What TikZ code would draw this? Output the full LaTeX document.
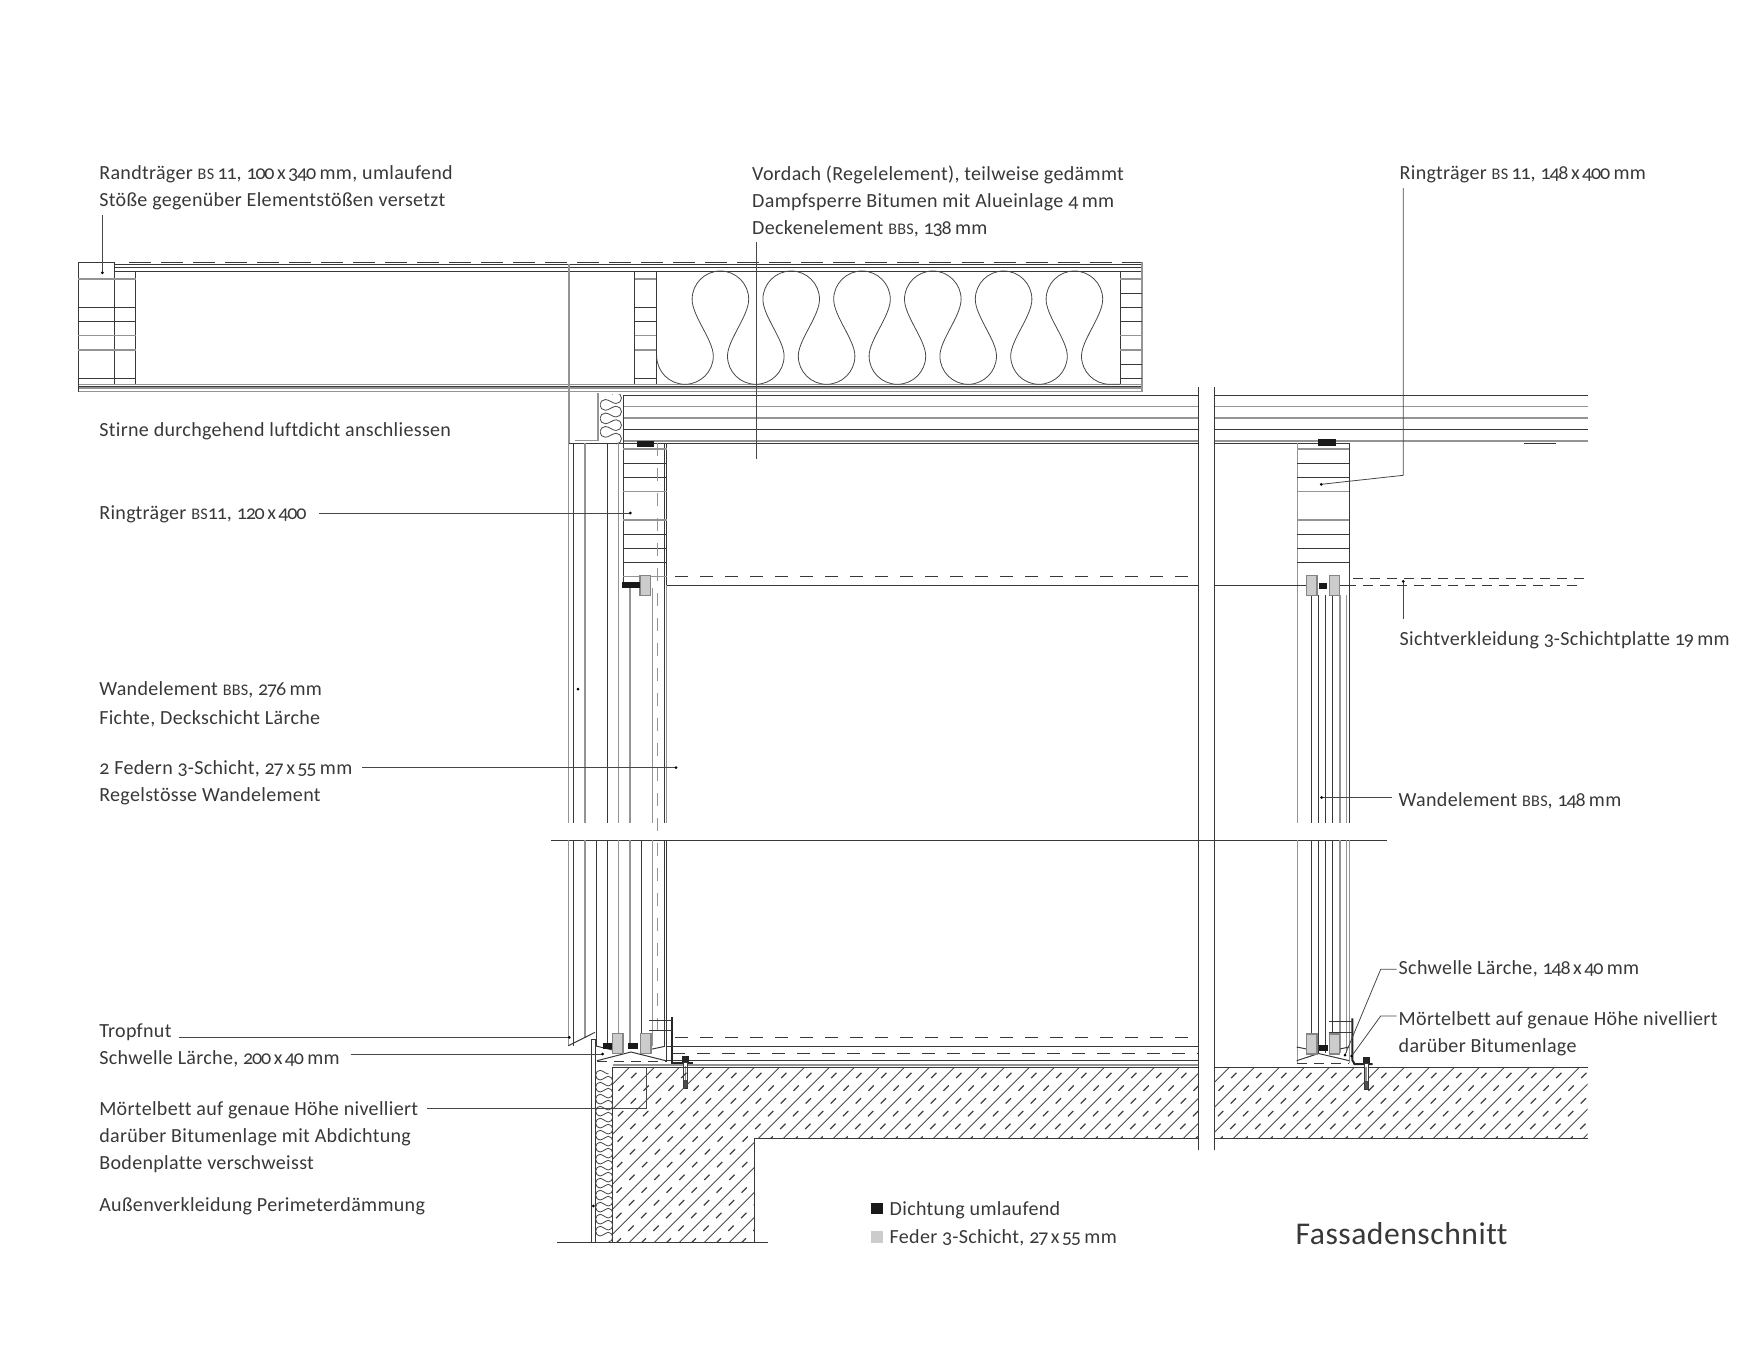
\documentclass[tikz,border=0pt]{standalone}
\usepackage{fontspec}
\setmainfont[Numbers=OldStyle,LetterSpace=1.6,Ligatures=NoCommon]{Carlito}

\newcommand{\smcap}[1]{{\fontsize{4.6}{7.68}\selectfont #1}}
\newcommand{\nr}[1]{{\addfontfeature{LetterSpace=-6}#1}}
\newcommand{\by}{\kern0.7pt x\kern0.7pt}

\tikzset{
    lineDark/.style={draw=black!78,line width=0.01cm},
    lineGray/.style={draw=black!42,line width=0.012cm},
    lineLead/.style={draw=black!72,line width=0.008cm},
    dashRoof/.style={lineDark,dash pattern=on 0.22cm off 0.10cm},
    dashLong/.style={lineDark,dash pattern=on 0.13cm off 0.12cm},
    dashGray/.style={lineGray,dash pattern=on 0.13cm off 0.12cm},
    dashShort/.style={lineDark,dash pattern=on 0.10cm off 0.07cm},
    lineHatch/.style={draw=black!70,line width=0.009cm},
    dashHatch/.style={draw=black!75,line width=0.012cm,dash pattern=on 0.075cm off 0.105cm},
    lineBold/.style={draw=black!85,line width=0.02cm},
    featherBox/.style={draw=black!48,line width=0.012cm,fill=black!20},
    sealBox/.style={fill=black!90},
    labelText/.style={anchor=west,align=left,inner sep=0pt,text=black!78,yshift=-0.02cm,
        font=\fontsize{5.7}{7.68}\selectfont},
    titleText/.style={anchor=west,inner sep=0pt,text=black!78,
        font=\fontsize{9}{11}\selectfont},
    woolUnit/.pic={
        \draw[lineLead] (0,85) .. controls (0,100.6) and (12.7,113.3) .. (28.3,113.3)
            .. controls (43.9,113.3) and (56.6,100.6) .. (56.6,85)
            .. controls (56.6,69) and (35.4,45) .. (35.4,28.3)
            .. controls (35.4,12.7) and (48.1,0) .. (63.7,0)
            .. controls (79.3,0) and (92,12.7) .. (92,28.3)
            .. controls (92,45) and (70.8,69) .. (70.8,85);
    },
    boltUnit/.pic={
        \draw[lineDark,fill=white] (-2,2) rectangle (2,28);
        \draw[lineGray] (0,6) -- (0,20);
        \fill[black!70] (-1.5,20) rectangle (1.5,28);
        \fill[black!85] (-3.5,-4) rectangle (3.5,2);
    }
}

\begin{document}
\begin{tikzpicture}[x=0.01cm,y=-0.01cm]
    \useasboundingbox (0,0) rectangle (1756,1345);

    % --------
    % Vordach
    % --------
    \draw[dashRoof] (129,262) -- (1142,262);
    \draw[lineDark] (114,264.5) -- (1142,264.5);
    \draw[lineDark] (114,267) -- (1142,267);
    \draw[lineDark] (114,271.5) -- (1143,271.5);
    \draw[lineGray] (78,384.3) -- (1142,384.3);
    \draw[lineDark] (78,386) -- (1142,386);
    \draw[lineGray] (78,388) -- (1142,388);
    \draw[lineGray] (78,391.5) -- (1142,391.5);

    % Randtraeger and inner beams
    \draw[lineDark] (78,262.5) -- (114,262.5) -- (114,384);
    \draw[lineDark] (78,262.5) -- (78,391.5);
    \draw[lineDark] (135.5,271) -- (135.5,384);
    \draw[lineDark] (634.5,271) -- (634.5,384);
    \draw[lineDark] (656.4,271) -- (656.4,384);
    \draw[lineDark] (1120,271) -- (1120,384);
    \draw[lineGray] (1142,262) -- (1142,391.5);
    \foreach \xa/\xb in {78/135.5,634.5/656.4,1120/1142} {
        \foreach \yy in {307.3,321.3,378.3}
            \draw[lineDark] (\xa,\yy) -- (\xb,\yy);
        \foreach \yy in {279,335.7,350}
            \draw[lineGray] (\xa,\yy) -- (\xb,\yy);
    }
    \foreach \yy in {293.3,364.3}
        \draw[lineDark] (1120,\yy) -- (1142,\yy);

    % Insulation
    \foreach \k in {0,...,5}
        \pic at ({656.7+70.8*\k},271) {woolUnit};
    \draw[lineLead] (1081.5,356) .. controls (1081.5,371.6) and (1094.2,384.3) .. (1110,384.3) -- (1120,384.3);

    % --------
    % Deckenelement
    % --------
    \foreach \xa/\xb in {623.3/1198.3,1214.3/1587.7} {
        \draw[lineDark] (\xa,395.3) -- (\xb,395.3);
        \draw[lineGray] (\xa,406.7) -- (\xb,406.7);
        \draw[lineGray] (\xa,418) -- (\xb,418);
        \draw[lineDark] (\xa,429.3) -- (\xb,429.3);
        \draw[lineGray] (\xa,441) -- (\xb,441);
    }
    \draw[lineDark] (569,443.3) -- (1198.3,443.3);
    \draw[lineDark] (1214.3,443.3) -- (1349.3,443.3);
    \draw[lineDark] (1524,443) -- (1556,443);
    \draw[lineDark] (623.3,395.3) -- (623.3,443.3);

    % Stirne
    \draw[lineGray] (569,264) -- (569,443);
    \draw[lineGray] (598,393) -- (598,441);
    \draw[lineGray] (575,440.5) -- (598,440.5);
    \begin{scope}
        \clip (600,397) -- (612,397) -- (612,394) -- (623,394) -- (623,445) -- (600,445) -- cycle;
        \foreach \k in {0,1,2,3}
            \pic[rotate=90,xscale=0.19,yscale=0.19] at (600,{444-13.5*\k}) {woolUnit};
    \end{scope}

    % Breaks
    \draw[lineDark] (1198.3,387) -- (1198.3,1150);
    \draw[lineDark] (1214.3,387) -- (1214.3,1150);
    \draw[lineDark] (551,840) -- (1387,840);

    % --------
    % Left wall
    % --------
    \foreach \xx in {573.7,607.3,664}
        \draw[lineDark] (\xx,443) -- (\xx,823.3);
    \foreach \xx in {568.7,585,618.7}
        \draw[lineGray] (\xx,443) -- (\xx,823.3);
    \draw[lineDark] (666.7,443) -- (666.7,585.3);
    \draw[lineGray] (666.7,585.3) -- (666.7,823.3);
    \foreach \xx in {630,652.7}
        \draw[lineGray] (\xx,588) -- (\xx,823.3);
    \draw[lineDark] (623.3,443) -- (623.3,582);
    \foreach \yy in {463,477,534.3,548.3,562.3}
        \draw[lineDark] (623.3,\yy) -- (666.7,\yy);
    \foreach \yy in {449,491.3,520,576.3}
        \draw[lineGray] (623.3,\yy) -- (666.7,\yy);
    \draw[dashGray] (657.7,443) -- (657.7,1037);

    \foreach \xx in {573.7,607.3,641.3,664}
        \draw[lineDark] (\xx,840) -- (\xx,1046);
    \foreach \xx in {618.7,630,652.7}
        \draw[lineGray] (\xx,840) -- (\xx,1046);
    \draw[lineGray] (568.7,840) -- (568.7,1045.7);
    \draw[lineGray] (585,840) -- (585,1038);
    \draw[lineDark] (596.7,840) -- (596.7,1046);
    \draw[lineDark] (666.7,840) -- (666.7,1062);

    % Keys and seals
    \filldraw[featherBox] (640,575.3) rectangle (650.7,595.3);
    \fill[sealBox] (636.7,440.7) rectangle (654.3,447);
    \fill[sealBox] (622,582) rectangle (640,588);
    \draw[lineDark] (666.7,585.3) -- (1198.3,585.3);
    \draw[dashLong] (675,576.3) -- (1198.3,576.3);

    % Sill
    \draw[lineDark] (568.3,1045.7) -- (595,1032.3);
    \draw[lineDark] (596,1046) -- (612.7,1050);
    \draw[lineDark] (651,1049.3) -- (665,1046.3);
    \draw[lineDark] (597,1060.7) -- (631,1052) -- (667,1061);
    \draw[dashShort] (597,1061) -- (667,1061);
    \filldraw[featherBox] (612.7,1033.3) rectangle (623,1053.3);
    \filldraw[featherBox] (640.7,1033.3) rectangle (651,1053.3);
    \fill[sealBox] (602.7,1042.7) rectangle (611.7,1049);
    \fill[sealBox] (628.3,1042.7) rectangle (638,1049);

    % Floor build-up
    \draw[dashLong] (675,1037.3) -- (1198.3,1037.3);
    \draw[lineDark] (666,1046.3) -- (1198.3,1046.3);
    \draw[dashLong] (672,1053.3) -- (1198.3,1053.3);
    \draw[lineDark] (665,1060.7) -- (1198.3,1060.7);
    \draw[lineGray] (612.7,1065) -- (1198.3,1065);

    % Angle and bolt
    \draw[lineBold] (672,1017.3) -- (672,1062.7) -- (692.7,1062.7);
    \draw[lineDark] (649,1020) -- (672,1020);
    \draw[lineDark] (649,1030.7) -- (672,1030.7);
    \pic at (685.3,1060) {boltUnit};

    % --------
    % Slab
    % --------
    \begin{scope}
        \clip (612.7,1067.3) -- (1198.3,1067.3) -- (1198.3,1138.3) -- (754.3,1138.3)
            -- (754.3,1242.3) -- (612.7,1242.3) -- cycle
            (1214.3,1067.3) rectangle (1587.7,1138.3);
        \foreach \k in {-6,...,37} {
            \pgfmathsetmacro{\cc}{1821.7+25*\k}
            \pgfmathsetmacro{\cd}{\cc+12.5}
            \draw[lineHatch] ({\cc-1060},1060) -- ({\cc-1250},1250);
            \draw[dashHatch] ({\cd-1060},1060) -- ({\cd-1250},1250);
        }
    \end{scope}
    \draw[lineDark] (612.7,1067.3) -- (1198.3,1067.3);
    \draw[lineDark] (1214.3,1067.3) -- (1587.7,1067.3);
    \draw[lineDark] (754.3,1242.3) -- (754.3,1138.3) -- (1198.3,1138.3);
    \draw[lineDark] (1214.3,1138.3) -- (1587.7,1138.3);
    \draw[lineDark] (612.7,1067.3) -- (612.7,1242.3);
    \draw[lineDark] (557.3,1242.3) -- (768.3,1242.3);

    % Perimeter insulation
    \draw[lineDark] (591.7,1039.3) -- (595,1039.3) -- (595,1242.3);
    \draw[lineDark] (591.7,1039.3) -- (591.7,1242.3);
    \foreach \k in {0,...,13}
        \pic[rotate=90,xscale=0.17,yscale=0.15] at (595.7,{1242-12*\k}) {woolUnit};

    % --------
    % Right wall
    % --------
    \draw[lineGray] (1297.3,443) -- (1297.3,823.3);
    \draw[lineDark] (1349.3,443) -- (1349.3,823.3);
    \foreach \yy in {463.3,477.3,534.3,548.3,562.3}
        \draw[lineDark] (1297.3,\yy) -- (1349.3,\yy);
    \foreach \yy in {449,491.7,520}
        \draw[lineGray] (1297.3,\yy) -- (1349.3,\yy);
    \foreach \xx in {1311.7,1318.3,1325.3,1332.3} {
        \draw[lineDark] (\xx,595) -- (\xx,823.3);
        \draw[lineDark] (\xx,840) -- (\xx,1053);
    }
    \foreach \xx in {1340,1346.3} {
        \draw[lineGray] (\xx,595) -- (\xx,823.3);
        \draw[lineGray] (\xx,840) -- (\xx,1053);
    }
    \draw[lineGray] (1297.3,840) -- (1297.3,1063);
    \draw[lineGray] (1349.3,840) -- (1349.3,1063);
    \draw[lineDark] (1214.3,585.3) -- (1306.7,585.3);
    \draw[lineDark] (1339.7,585.3) -- (1346,585.3);
    \draw[dashShort] (1353,578.3) -- (1588,578.3);
    \draw[dashShort] (1346,585.3) -- (1584,585.3);
    \fill[sealBox] (1317.7,439) rectangle (1335.7,446);
    \filldraw[featherBox] (1306.7,575.3) rectangle (1317,595.3);
    \filldraw[featherBox] (1329.3,575.3) rectangle (1339.7,595.3);
    \fill[sealBox] (1319,583) rectangle (1327,589);

    % Right sill
    \draw[lineDark] (1296.7,1047) -- (1306.7,1049);
    \draw[lineDark] (1340,1049) -- (1349,1047);
    \draw[lineDark] (1296.7,1060.7) -- (1318.5,1053.5) -- (1349.3,1060.7);
    \draw[dashShort] (1297,1063) -- (1349,1063);
    \filldraw[featherBox] (1306.7,1034) rectangle (1317,1054);
    \filldraw[featherBox] (1329.3,1034) rectangle (1339.3,1054);
    \fill[sealBox] (1318.7,1044.7) rectangle (1327.7,1051);
    \draw[lineBold] (1352.3,1018.3) -- (1352.3,1060) -- (1354.5,1064) -- (1372.7,1064);
    \draw[lineDark] (1329.3,1021.7) -- (1352.3,1021.7);
    \draw[lineDark] (1329.3,1032) -- (1352.3,1032);
    \pic at (1366,1061) {boltUnit};

    % --------
    % Leader ends
    % --------
    \coordinate (randTop) at (102.4,215);
    \coordinate (randEnd) at (102.4,272.7);
    \coordinate (vordachTop) at (756,242);
    \coordinate (vordachEnd) at (756,458.7);
    \coordinate (ringRTop) at (1403.3,188);
    \coordinate (ringRBend) at (1403.3,475.3);
    \coordinate (ringREnd) at (1321.3,484.3);
    \coordinate (sichtTop) at (1403.3,581.3);
    \coordinate (sichtEnd) at (1403.3,618.7);
    \coordinate (ringLStart) at (319,513);
    \coordinate (ringLEnd) at (630.3,513);
    \coordinate (federStart) at (362,767.5);
    \coordinate (federEnd) at (676,767.5);
    \coordinate (wandEnd) at (578,689);
    \coordinate (wandRStart) at (1392,797.5);
    \coordinate (wandREnd) at (1321.6,797.5);
    \coordinate (tropfStart) at (179,1037.3);
    \coordinate (tropfEnd) at (569.3,1037.3);
    \coordinate (schwStart) at (350.6,1054);
    \coordinate (schwEnd) at (602.7,1054);
    \coordinate (moertStart) at (427,1108);
    \coordinate (moertBend) at (646.7,1108);
    \coordinate (moertEnd) at (646.7,1066.7);
    \coordinate (periEnd) at (593.3,1206);
    \coordinate (schwRStart) at (1396.7,969.3);
    \coordinate (schwRBend) at (1380.7,969.3);
    \coordinate (schwREnd) at (1345,1055);
    \coordinate (moertRStart) at (1396.7,1016);
    \coordinate (moertRBend) at (1380.7,1016);
    \coordinate (moertREnd) at (1351.7,1056);

    % Draw line
    \draw[lineLead] (randTop) -- (randEnd);
    \draw[lineLead] (vordachTop) -- (vordachEnd);
    \draw[lineLead] (ringRTop) -- (ringRBend) -- (ringREnd);
    \draw[lineLead] (sichtTop) -- (sichtEnd);
    \draw[lineLead] (ringLStart) -- (ringLEnd);
    \draw[lineLead] (federStart) -- (federEnd);
    \draw[lineLead] (wandRStart) -- (wandREnd);
    \draw[lineLead] (tropfStart) -- (tropfEnd);
    \draw[lineLead] (schwStart) -- (schwEnd);
    \draw[lineLead] (moertStart) -- (moertBend) -- (moertEnd);
    \draw[lineLead] (schwRStart) -- (schwRBend) -- (schwREnd);
    \draw[lineLead] (moertRStart) -- (moertRBend) -- (moertREnd);
    \foreach \pnt in {randEnd,ringREnd,sichtTop,ringLEnd,federEnd,wandEnd,wandREnd,tropfEnd,schwEnd,periEnd,schwREnd,moertREnd}
        \fill[black] (\pnt) circle (1.5);

    % --------
    % Labels
    % --------
    \node[labelText] at (98.6,185.5) (textRand) {Randträger \smcap{BS}\,\nr{11}, \nr{100}\by\nr{340}\,mm, umlaufend\\Stöße gegenüber Elementstößen versetzt};
    \node[labelText] at (751.5,199.5) (textVordach) {Vordach (Regelelement), teilweise gedämmt\\Dampfsperre Bitumen mit Alueinlage \nr{4}\,mm\\Deckenelement \smcap{BBS}, \nr{138}\,mm};
    \node[labelText] at (1399,172.5) (textRingR) {Ringträger \smcap{BS}\,\nr{11}, \nr{148}\by\nr{400}\,mm};
    \node[labelText] at (98.6,429) (textStirne) {Stirne durchgehend luftdicht anschliessen};
    \node[labelText] at (98.6,512) (textRingL) {Ringträger \smcap{BS}\nr{11}, \nr{120}\by\nr{400}};
    \node[labelText] at (98.6,702.5) (textWand) {Wandelement \smcap{BBS}, \nr{276}\,mm\\[0.6pt]Fichte, Deckschicht Lärche};
    \node[labelText] at (98.6,780.5) (textFeder) {\nr{2} Federn \nr{3}-Schicht, \nr{27}\by\nr{55}\,mm\\Regelstösse Wandelement};
    \node[labelText] at (98.6,1043.5) (textTropf) {Tropfnut\\Schwelle Lärche, \nr{200}\by\nr{40}\,mm};
    \node[labelText] at (98.6,1135) (textMoert) {Mörtelbett auf genaue Höhe nivelliert\\darüber Bitumenlage mit Abdichtung\\Bodenplatte verschweisst};
    \node[labelText] at (98.6,1204) (textPeri) {Außenverkleidung Perimeterdämmung};
    \node[labelText] at (1399,638) (textSicht) {Sichtverkleidung \nr{3}-Schichtplatte \nr{19}\,mm};
    \node[labelText] at (1398,798.5) (textWandR) {Wandelement \smcap{BBS}, \nr{148}\,mm};
    \node[labelText] at (1398,966.5) (textSchwR) {Schwelle Lärche, \nr{148}\by\nr{40}\,mm};
    \node[labelText] at (1398,1031.5) (textMoertR) {Mörtelbett auf genaue Höhe nivelliert\\darüber Bitumenlage};

    % Legend
    \fill[sealBox] (871,1203) rectangle (883,1214);
    \fill[black!20] (871,1231) rectangle (883,1243);
    \node[labelText] at (889,1208.5) (textSeal) {Dichtung umlaufend};
    \node[labelText] at (889,1236) (textKey) {Feder \nr{3}-Schicht, \nr{27}\by\nr{55}\,mm};
    \node[titleText] at (1295,1234) (textTitle) {Fassadenschnitt};
\end{tikzpicture}
\end{document}
